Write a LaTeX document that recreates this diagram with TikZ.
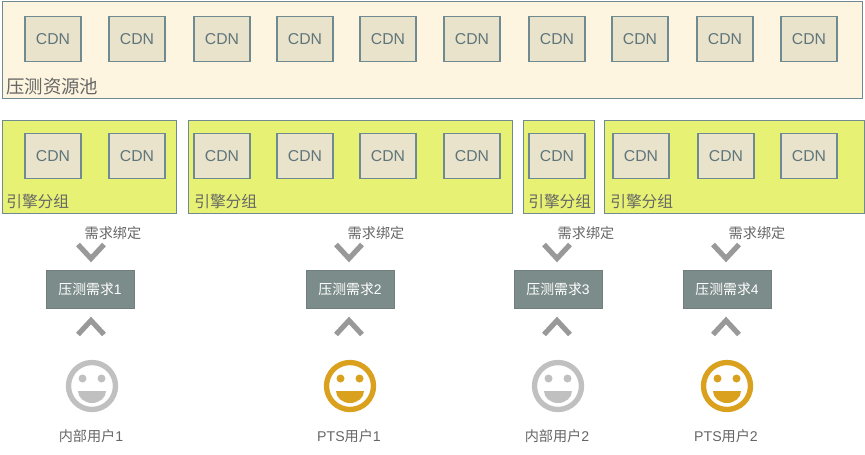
\documentclass[tikz,border=0pt]{standalone}
\usepackage{fontspec}
\setmainfont{Liberation Sans}
\newfontfamily\cjk{Noto Sans CJK SC}
\definecolor{poolcolor}{HTML}{FDF5DF}
\definecolor{groupcolor}{HTML}{E7F274}
\definecolor{cdncolor}{HTML}{EAE3CB}
\definecolor{edgecolor}{HTML}{6F8A91}
\definecolor{reqcolor}{HTML}{7C8C8A}
\definecolor{labelcolor}{HTML}{666666}
\definecolor{usergray}{HTML}{C0C0C0}
\definecolor{usergold}{HTML}{DAA11E}
\tikzset{
  panel/.style={draw=edgecolor, line width=0.8pt, anchor=north west, inner sep=0pt},
  cdn/.style={draw=edgecolor, line width=0.8pt, fill=cdncolor, text=edgecolor!85!black,
    minimum width=42pt, minimum height=34pt, inner sep=0pt, font=\fontsize{11.8}{13}\selectfont},
  req/.style={draw=reqcolor!90!black, line width=0.4pt, fill=reqcolor, text=white,
    minimum width=66pt, minimum height=28.5pt, inner sep=0pt, font=\fontsize{10.4}{12}\selectfont},
  caption/.style={text=labelcolor, inner sep=0pt, font=\fontsize{10.6}{12}\selectfont},
  chevron/.pic={
    \draw[line width=3.9pt, color=gray!80, miter limit=10] (-13,-14) -- (0,0) -- (13,-14);
  },
  smiley/.pic={
    \draw[line width=4pt, color=#1] (0,0) circle (23.5);
    \fill[#1] (-9.5,-7.5) circle (4) (9.5,-7.5) circle (4);
    \fill[#1] (-14,5) -- (14,5) arc[start angle=0, end angle=180, x radius=14, y radius=12] -- cycle;
  },
  smiley/.default=usergray
}
\begin{document}
\begin{tikzpicture}[x=0.75pt, y=-0.75pt]
  \useasboundingbox (0,0) rectangle (865,454);

  % Resource pool
  \node[panel, fill=poolcolor, minimum width=645pt, minimum height=72.5pt] (pool) at (2,1) {};
  \node[text=labelcolor, anchor=west, inner sep=0pt, font=\fontsize{13.8}{15}\selectfont\cjk] (poolname) at (6,87) {压测资源池};
  \foreach \x [count=\i] in {53,137,222,305,388,472,557,640,725,809}
    \node[cdn] (pooled\i) at (\x,39) {CDN};

  % Engine groups
  \node[panel, fill=groupcolor, minimum width=130.5pt, minimum height=69.5pt] (groupa) at (2,120) {};
  \node[panel, fill=groupcolor, minimum width=243pt, minimum height=69.5pt] (groupb) at (188,120) {};
  \node[panel, fill=groupcolor, minimum width=53.25pt, minimum height=69.5pt] (groupc) at (523,120) {};
  \node[panel, fill=groupcolor, minimum width=195pt, minimum height=69.5pt] (groupd) at (604,120) {};
  \foreach \x [count=\i] in {53,137,222,305,388,472,557,641,726,809}
    \node[cdn] (bound\i) at (\x,156) {CDN};
  \foreach \x/\g in {6/a,194/b,528/c,610/d}
    \node[text=labelcolor, anchor=west, inner sep=0pt, font=\fontsize{11.8}{13}\selectfont\cjk] (name\g) at (\x,202) {引擎分组};

  % Demands, chevrons and users
  \foreach \cx/\bx/\tx/\n/\who/\col in {91/90/113/1/{\cjk 内部用户}1/usergray,
      349/350/376/2/PTS{\cjk 用户}1/usergold,
      557/558/586/3/{\cjk 内部用户}2/usergray,
      726/727/757/4/PTS{\cjk 用户}2/usergold}{
    \node[caption] (bind\n) at (\tx,233) {\cjk 需求绑定};
    \pic at (\cx,258.5) {chevron};
    \node[req] (req\n) at (\bx,289) {{\cjk 压测需求}\n};
    \pic[yscale=-1] at (\cx,320.5) {chevron};
    \pic at (\cx+1,386) {smiley=\col};
    \node[caption] (user\n) at (\cx,436) {\who};
  }
\end{tikzpicture}
\end{document}
